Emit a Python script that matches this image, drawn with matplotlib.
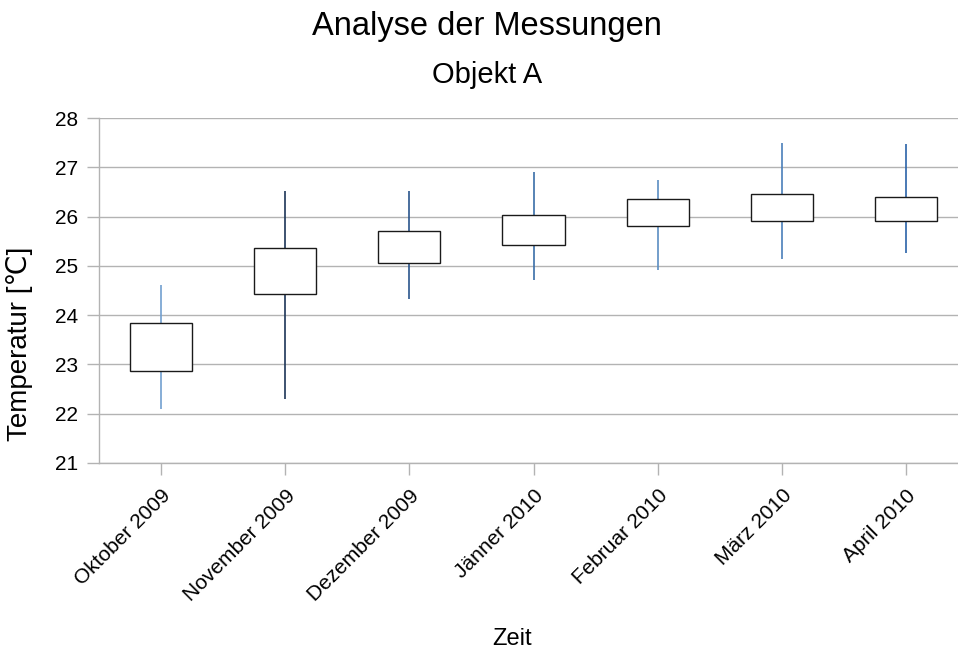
import matplotlib
matplotlib.use("Agg")
import matplotlib.pyplot as plt

# === Data ===
months = ["Oktober 2009", "November 2009", "Dezember 2009", "Jänner 2010",
          "Februar 2010", "März 2010", "April 2010"]
open_vals = [22.87, 24.42, 25.05, 25.42, 25.81, 25.92, 25.91]
close_vals = [23.84, 25.36, 25.70, 26.03, 26.35, 26.46, 26.39]
low_vals = [22.09, 22.30, 24.32, 24.72, 24.91, 25.13, 25.26]
high_vals = [24.61, 26.52, 26.52, 26.90, 26.75, 27.49, 27.47]
wick_colors = ["#729fcf", "#1c3558", "#2a558c", "#3a6ea8", "#5b8ec2", "#4a7fba", "#2a62a8"]

plt.rcParams["font.family"] = ["Liberation Sans", "DejaVu Sans"]

fig = plt.figure(figsize=(9.58, 6.51), dpi=100)
W, H = 958.0, 651.0
ax = fig.add_axes([99 / W, (H - 463) / H, (968 - 99) / W, (463 - 118) / H])

# === Candles ===
x = list(range(len(months)))
ax.vlines(x, low_vals, high_vals, colors=wick_colors, linewidth=1.2, zorder=2)
heights = [c - o for o, c in zip(open_vals, close_vals)]
ax.bar(x, heights, bottom=open_vals, width=0.5, facecolor="white",
       edgecolor="#1a1a1a", linewidth=1.0, zorder=3)

# === Axes styling ===
ax.set_xlim(-0.5, len(months) - 0.5)
ax.set_ylim(21, 28)
ax.set_yticks(range(21, 29))
ax.grid(axis="y", color="#b3b3b3", linewidth=1.0, zorder=0)
ax.set_axisbelow(True)
for side in ["top", "right"]:
    ax.spines[side].set_visible(False)
for side in ["left", "bottom"]:
    ax.spines[side].set_color("#b3b3b3")
    ax.spines[side].set_linewidth(1.0)

ax.set_xticks(x)
ax.set_xticklabels(months, rotation=45, ha="right", rotation_mode="anchor",
                   fontsize=15)
ax.tick_params(axis="both", colors="#b3b3b3", labelcolor="black", length=8.6,
               width=1.0, labelsize=15)
ax.tick_params(axis="x", pad=8)
ax.tick_params(axis="y", pad=6.5)

ax.set_xlabel("Zeit", fontsize=17)
ax.xaxis.set_label_coords((512 - 99) / (968 - 99), -(628 - 463) / (463 - 118))
ax.set_ylabel("Temperatur [℃]", fontsize=20)
ax.yaxis.set_label_coords(-(99 - 33) / (968 - 99), (463 - 344) / (463 - 118))

# === Titles ===
fig.text(487 / W, 1 - 35 / H, "Analyse der Messungen", fontsize=23.5,
         ha="center", va="baseline")
fig.text(487 / W, 1 - 83 / H, "Objekt A", fontsize=21,
         ha="center", va="baseline")

fig.savefig("out.png", dpi=100)
plt.close(fig)
